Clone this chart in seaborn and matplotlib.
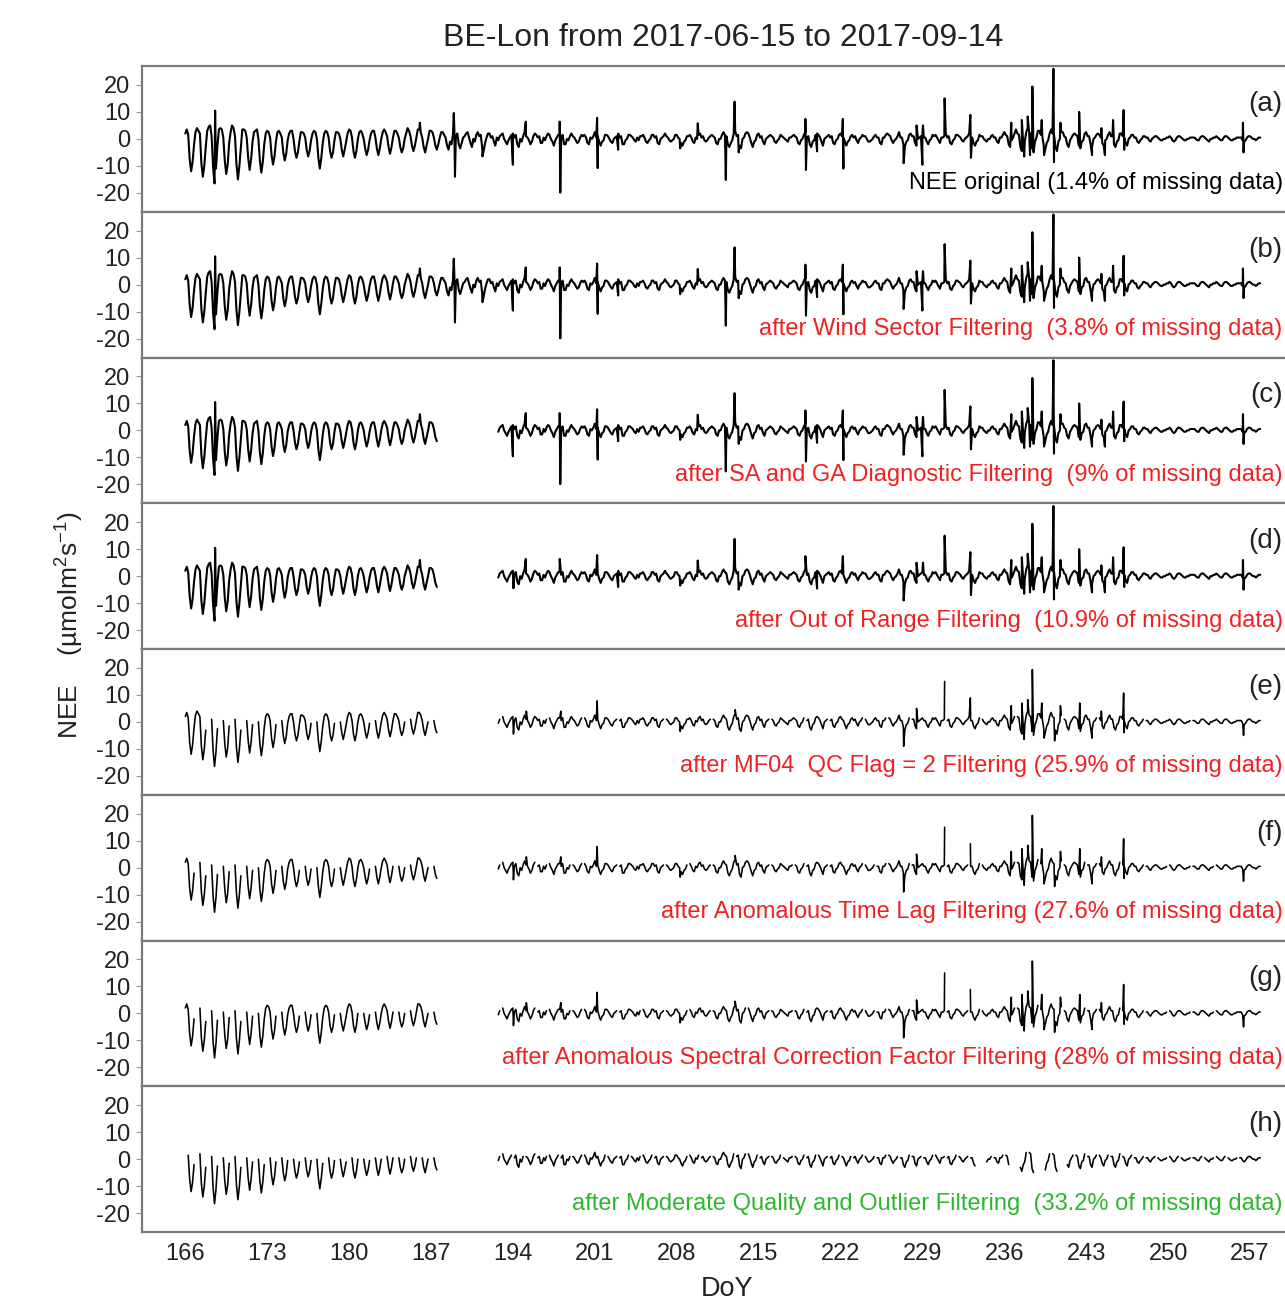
import numpy as np
import pandas as pd
import matplotlib
matplotlib.use("Agg")
import matplotlib.pyplot as plt
import seaborn as sns

# ---- data ----
# NEE every 3 h (00,03,06,09,12,15,18,21), one row per day, DoY 166-257
start_doy = 166
nee_3h = [
    2.0, 3.5, 1.5, -7.5, -12.0, -8.5, -2.0, 2.5,    # 166
    4.0, 3.0, 2.0, -9.0, -14.0, -10.0, -3.0, 3.0,
    4.5, 5.0, 1.0, -10.5, -16.5, -11.0, -2.5, 3.5,
    4.0, 3.5, 0.5, -8.0, -13.0, -9.5, -1.5, 2.5,
    5.0, 4.0, 1.0, -9.5, -15.0, -10.0, -3.0, 3.5,   # 170
    3.5, 3.0, 0.5, -7.0, -11.5, -7.5, -1.0, 2.5,
    3.0, 3.5, 0.0, -8.0, -12.5, -8.5, -2.0, 2.0,
    3.0, 2.5, 0.5, -6.0, -9.5, -6.5, -1.0, 2.5,
    3.0, 2.0, 0.5, -5.0, -8.0, -5.5, -0.5, 2.0,
    3.0, 3.0, 0.0, -4.5, -7.0, -5.0, -1.0, 2.5,     # 175
    2.5, 2.0, 0.5, -4.0, -6.5, -4.5, -0.5, 2.0,
    3.0, 2.5, 0.0, -7.0, -11.0, -7.0, -1.5, 2.0,
    3.0, 2.5, 0.5, -4.5, -7.0, -5.0, -0.5, 2.5,
    2.5, 2.0, 0.0, -4.0, -6.5, -4.0, -1.0, 2.0,
    3.5, 3.0, 0.5, -4.5, -7.0, -4.5, 0.0, 2.5,      # 180
    3.0, 2.0, 0.0, -3.5, -6.0, -4.0, -0.5, 2.0,
    3.0, 3.0, 0.5, -3.5, -6.0, -3.5, 0.0, 2.5,
    3.5, 2.5, 1.0, -3.0, -5.5, -3.0, 0.5, 3.0,
    3.0, 2.0, 0.5, -3.0, -5.0, -3.5, 0.0, 2.0,
    4.0, 3.0, 1.0, -2.5, -4.5, -2.5, 0.5, 3.5,      # 185
    3.5, 2.5, 0.5, -3.0, -5.0, -2.5, 0.0, 3.0,
    3.0, 2.5, 0.5, -2.5, -4.0, -2.0, 0.5, 2.5,
    2.5, 1.5, 0.5, -2.5, -4.0, -1.0, -2.0, 1.5,
    3.0, 1.0, 2.0, -2.0, -3.5, -1.5, 0.5, 1.0,
    2.0, 2.5, 0.5, -1.5, -3.0, 0.0, -1.0, 1.5,      # 190
    2.5, 1.0, 1.5, -3.0, -4.5, -1.5, 0.5, 2.0,
    2.0, 0.5, 1.0, -1.0, -2.5, 0.5, -0.5, 1.0,
    1.5, 2.0, 0.0, -1.0, -2.0, -0.5, 0.5, 1.5,
    2.0, 0.5, 1.5, -2.0, -3.0, 0.0, -1.0, 1.0,
    2.5, 1.0, 0.5, -0.5, -2.0, -1.0, 1.0, 2.0,      # 195
    1.5, 0.5, 1.0, -1.5, -1.5, 0.5, -0.5, 1.0,
    2.0, 1.5, 0.0, -1.0, -2.5, -0.5, 0.5, 1.5,
    1.5, 0.5, 1.5, -2.0, -2.0, 0.0, -0.5, 1.0,
    2.0, 1.0, 0.5, -0.5, -1.5, -1.0, 0.5, 1.5,
    1.0, 1.5, 0.5, -1.5, -2.0, 0.5, 0.0, 1.0,       # 200
    2.5, 0.5, 1.0, -1.0, -2.5, -1.0, -0.5, 1.5,
    1.5, 1.0, 0.0, -1.0, -1.5, 0.0, 0.5, 1.0,
    2.0, 0.5, 1.0, -2.0, -2.0, -0.5, 0.0, 1.5,
    1.5, 1.0, 0.5, -0.5, -1.0, 0.5, -0.5, 1.0,
    1.0, 1.5, 0.5, -1.0, -1.5, -0.5, 0.0, 1.5,      # 205
    1.5, 0.5, 1.0, -1.5, -2.0, 0.0, 0.5, 1.0,
    2.0, 1.0, 0.5, -0.5, -1.0, -0.5, 0.0, 1.5,
    1.5, 0.5, 0.0, -1.5, -2.5, -1.0, -0.5, 1.0,
    1.0, 1.5, 0.5, -1.0, -1.5, 0.5, 0.0, 1.5,
    2.0, 0.5, 1.0, -0.5, -1.0, -0.5, 0.5, 1.0,      # 210
    1.5, 1.0, 0.5, -1.5, -2.0, 0.0, 0.0, 1.5,
    2.5, 1.5, 1.0, -2.0, -3.0, -1.5, -0.5, 2.0,
    3.0, 1.0, 1.5, -2.5, -3.5, 0.0, 0.5, 2.0,
    2.5, 2.0, 0.5, -1.5, -3.0, -1.0, -0.5, 1.5,
    2.0, 0.5, 1.0, -1.0, -2.0, 0.0, 0.5, 1.0,       # 215
    1.5, 1.0, 0.5, -1.0, -1.5, -0.5, 0.0, 1.5,
    1.0, 0.5, 0.0, -0.5, -1.0, 0.5, 0.5, 1.0,
    1.5, 1.0, 0.5, -1.5, -2.0, -0.5, 0.0, 1.5,
    2.5, 0.5, 1.0, -2.0, -3.0, -1.0, -0.5, 1.5,
    2.0, 1.5, 0.5, -1.0, -2.5, 0.0, 0.5, 1.0,       # 220
    1.5, 0.5, 1.0, -1.5, -2.0, -0.5, 0.0, 1.5,
    2.0, 1.0, 0.5, -1.0, -2.5, -1.0, -0.5, 1.0,
    1.5, 0.5, 1.0, -0.5, -1.5, 0.0, 0.5, 1.5,
    1.0, 1.0, 0.0, -1.0, -1.0, -0.5, 0.0, 1.0,
    1.5, 0.5, 0.5, -1.5, -2.0, 0.5, 0.5, 1.5,       # 225
    2.0, 1.5, 1.0, -0.5, -1.5, -0.5, 0.0, 1.0,
    2.5, 0.5, 0.5, -2.0, -3.0, -1.0, -0.5, 1.5,
    2.0, 1.0, 1.0, -1.5, -2.5, 0.0, 0.5, 1.0,
    1.5, 0.5, 0.5, -1.0, -2.0, -0.5, 0.0, 1.5,
    1.0, 1.5, 0.5, -0.5, -1.5, 0.5, 0.5, 1.0,       # 230
    2.0, 0.5, 1.0, -1.5, -2.0, -0.5, 0.0, 1.5,
    1.5, 1.0, 0.5, -0.5, -1.0, 0.0, 0.5, 1.0,
    2.0, 0.5, 0.5, -1.5, -2.5, -1.0, -0.5, 1.5,
    1.0, 1.0, 0.0, -0.5, -1.0, 0.0, 0.0, 1.0,
    1.5, 0.5, 0.5, -1.0, -1.5, 0.5, 0.5, 1.5,       # 235
    2.5, 1.5, 1.0, -2.0, -3.0, -0.5, 0.5, 2.0,
    3.5, 2.0, 1.5, -3.0, -4.5, -2.0, -1.0, 2.5,
    4.0, 2.5, 2.0, -3.5, -5.0, -1.0, 0.5, 3.0,
    3.0, 1.5, 1.0, -2.5, -4.0, -1.5, -0.5, 2.0,
    3.5, 2.0, 1.5, -3.0, -4.5, -1.0, 0.0, 2.5,      # 240
    2.5, 1.0, 0.5, -2.0, -3.0, -0.5, 0.5, 1.5,
    2.0, 1.5, 1.0, -2.5, -3.5, -1.0, -0.5, 2.0,
    2.5, 1.0, 1.0, -2.0, -3.0, 0.0, 0.5, 1.5,
    2.0, 1.5, 0.5, -1.5, -2.5, -0.5, 0.0, 1.5,
    2.5, 1.0, 1.0, -2.0, -3.0, -1.0, -0.5, 2.0,     # 245
    2.0, 1.0, 0.5, -1.5, -2.5, 0.0, 0.5, 1.5,
    1.5, 0.5, 0.5, -1.0, -1.5, -0.5, 0.0, 1.0,
    1.0, 0.5, 0.5, -0.5, -1.0, 0.0, 0.5, 1.0,
    1.0, 0.5, 0.0, -0.5, -0.5, 0.0, 0.0, 0.5,
    0.5, 1.0, 0.5, -0.5, -1.0, -0.5, 0.5, 1.0,      # 250
    1.0, 0.5, 0.0, -0.5, -0.5, 0.0, 0.0, 0.5,
    0.5, 0.5, 0.5, 0.0, -0.5, -0.5, 0.5, 1.0,
    1.0, 0.5, 0.0, -0.5, -1.0, 0.0, 0.0, 0.5,
    0.5, 1.0, 0.5, 0.0, -0.5, -0.5, 0.5, 1.0,
    1.0, 0.5, 0.0, -0.5, -0.5, 0.0, 0.0, 0.5,       # 255
    0.5, 0.5, 0.5, -0.5, -1.0, -0.5, 0.5, 1.0,
    1.0, 0.5, 0.0, 0.0, -0.5, 0.0, 0.5, 0.5,
]

# single half-hour spikes: DoY, value, first and last panel (0=a .. 7=h) showing it
spike_doy = [168.55, 186.05, 188.95, 189.05, 191.4,
             194.0, 194.05, 195.1, 195.15, 198.0, 198.05, 198.1, 201.2, 201.25,
             203.0, 208.3, 209.8, 212.2, 212.95, 213.0, 213.3, 219.0, 219.05,
             220.0, 222.2, 222.25, 227.4, 228.5, 229.0, 229.05, 230.9, 233.1,
             233.15, 236.6, 237.5, 237.7, 238.0, 238.2, 238.4, 239.2, 239.4,
             240.2, 240.25, 240.3, 240.8, 242.4, 242.45, 243.5, 244.3, 244.6,
             245.3, 246.2, 246.25, 256.4, 256.45]
spike_val = [10.5, 6.0, 9.6, -14.0, -6.5,
             -9.6, -4.5, 6.4, 4.0, 6.4, -19.9, 4.0, 7.8, -10.8,
             -4.0, -3.5, 5.8, -15.2, 13.8, 4.5, -5.0, 7.4, -11.5,
             -4.6, 7.4, -11.0, -9.0, 5.0, -9.6, 5.0, 15.0, 8.9,
             -7.0, 6.0, 7.0, -6.5, 8.3, -6.0, 19.4, 7.0, -6.0,
             26.0, -8.6, -7.0, 6.0, 10.0, 7.0, -6.0, 4.0, -6.0,
             7.0, 10.7, -4.0, 6.0, -5.0]
spike_first = [0, 0, 0, 0, 0,
               0, 3, 0, 4, 0, 0, 4, 0, 0,
               0, 0, 0, 0, 0, 4, 0, 0, 0,
               0, 0, 0, 0, 0, 0, 0, 0, 0,
               0, 0, 0, 0, 0, 0, 0, 0, 0,
               0, 0, 4, 0, 0, 4, 0, 0, 0,
               0, 0, 0, 0, 0]
spike_last = [3, 3, 1, 1, 1,
              2, 6, 3, 6, 3, 2, 6, 6, 2,
              3, 6, 3, 2, 3, 6, 3, 6, 2,
              3, 3, 2, 6, 6, 2, 3, 6, 6,
              3, 6, 6, 6, 6, 3, 6, 6, 6,
              3, 3, 6, 6, 3, 6, 6, 6, 3,
              3, 6, 6, 3, 6]

# missing stretches and the first panel where they are removed
gap_start = [187.6, 233.6, 236.4, 238.6, 240.6]
gap_end = [192.7, 234.4, 237.3, 239.4, 241.3]
gap_from = [2, 7, 7, 7, 7]
# nights removed from panel e / f / g / h onwards
nights_e = [168, 169, 170, 171, 172, 174, 177, 179, 182, 185, 187, 193, 197, 200,
            203, 207, 211, 216, 219, 221, 224, 226, 228, 231, 234, 237, 241, 244,
            248, 252]
nights_f = [167, 176, 184, 196, 199, 209, 218, 225, 233, 239, 243, 246, 250, 254]
nights_g = [181, 205, 214]
nights_h = [166, 173, 175, 178, 180, 183, 186, 194, 195, 198, 202, 204, 206, 210,
            213, 215, 217, 220, 222, 223, 227, 229, 230, 232, 235, 236, 238, 240,
            242, 245, 247, 249, 251, 253, 255, 256]

panel_tags = ["(a)", "(b)", "(c)", "(d)", "(e)", "(f)", "(g)", "(h)"]
panel_notes = [
    "NEE original (1.4% of missing data)",
    "after Wind Sector Filtering  (3.8% of missing data)",
    "after SA and GA Diagnostic Filtering  (9% of missing data)",
    "after Out of Range Filtering  (10.9% of missing data)",
    "after MF04  QC Flag = 2 Filtering (25.9% of missing data)",
    "after Anomalous Time Lag Filtering (27.6% of missing data)",
    "after Anomalous Spectral Correction Factor Filtering (28% of missing data)",
    "after Moderate Quality and Outlier Filtering  (33.2% of missing data)",
]
note_colors = ["black"] + ["#ee2222"] * 6 + ["#2cb82c"]
doy_ticks = list(range(166, 258, 7))

# ---- build the per-panel series ----
base_t = start_doy + np.arange(len(nee_3h)) / 8.0
base_v = np.array(nee_3h)

gaps = list(zip(gap_start, gap_end, gap_from))
for lst, p in [(nights_e, 4), (nights_f, 5), (nights_g, 6), (nights_h, 7)]:
    for d in lst:
        # whole night top missing in the diurnal part, shorter holes later on
        w = 0.15 if d < 190 else 0.07
        gaps.append((d - w, d + w, p))

sp_doy = np.array(spike_doy)
sp_val = np.array(spike_val)
sp_first = np.array(spike_first)
sp_last = np.array(spike_last)


def panel_frame(i):
    sel = (sp_first <= i) & (sp_last >= i)
    t = np.concatenate([base_t, sp_doy[sel]])
    v = np.concatenate([base_v, sp_val[sel]])
    order = np.argsort(t, kind="stable")
    t, v = t[order], v[order]
    drop = np.zeros(len(t), dtype=bool)
    for a, b, p in gaps:
        if p <= i:
            drop |= (t > a) & (t < b)
    seg = np.cumsum(drop)
    df = pd.DataFrame({"doy": t, "nee": v, "seg": seg})
    return df[~drop]


# ---- plot ----
sns.set_style("white")
plt.rcParams["font.family"] = ["Liberation Sans", "DejaVu Sans"]
plt.rcParams["axes.unicode_minus"] = False
plt.rcParams["mathtext.fontset"] = "custom"
plt.rcParams["mathtext.rm"] = "Liberation Sans"
plt.rcParams["mathtext.it"] = "Liberation Sans:italic"
plt.rcParams["mathtext.bf"] = "Liberation Sans:bold"

fig = plt.figure(figsize=(12.85, 13.05), dpi=100)
left, bottom, top = 0.1105, 0.0559, 0.9494
width = 100 * 11.7 / 1285
h = (top - bottom) / 8
axes = []
for i in range(8):
    ax = fig.add_axes([left, top - (i + 1) * h, width, h])
    axes.append(ax)
    df = panel_frame(i)
    sns.lineplot(data=df, x="doy", y="nee", units="seg", estimator=None,
                 color="black", lw=1.5 if i < 4 else 1.15, ax=ax)
    ax.set_xlim(162.3, 262.3)
    ax.set_ylim(-27, 27)
    ax.set_yticks([-20, -10, 0, 10, 20])
    ax.set_yticklabels(["-20", "-10", "0", "10", "20"])
    ax.set_xticks(doy_ticks)
    ax.set_xlabel("")
    ax.set_ylabel("")
    ax.tick_params(axis="y", left=True, length=4.5, width=0.8, color="#999999",
                   labelsize=17, pad=4, labelcolor="#222222")
    ax.tick_params(axis="x", bottom=(i == 7), length=0, labelsize=17, pad=8,
                   labelcolor="#222222", labelbottom=(i == 7))
    for s in ax.spines.values():
        s.set_color("#7a7a7a")
        s.set_linewidth(1.6)
    ax.text(259.8, 13, panel_tags[i], fontsize=20, va="center", ha="right",
            color="#222222")
    ax.text(259.8, -16.5, panel_notes[i], fontsize=17, va="center", ha="right",
            color=note_colors[i])

axes[-1].set_xlabel("DoY", fontsize=19.5, labelpad=8, color="#222222")
fig.text(723 / 1285, 1 - 38 / 1305, "BE-Lon from 2017-06-15 to 2017-09-14",
         fontsize=23, ha="center", va="center", color="#222222")
fig.text(70 / 1285, 1 - 625 / 1305, "NEE    (µmolm$^2$s$^{-1}$)",
         fontsize=19, rotation=90, ha="center", va="center", color="#222222")

fig.savefig("out.png", dpi=100)
